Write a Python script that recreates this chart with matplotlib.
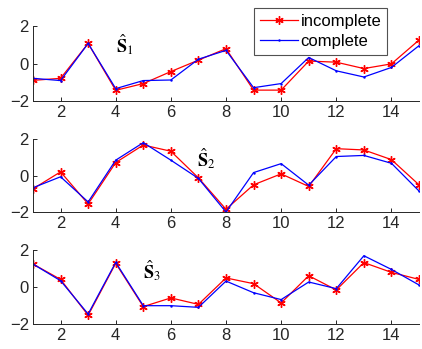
import matplotlib
matplotlib.use("Agg")
import matplotlib.pyplot as plt
import numpy as np

plt.rcParams['font.family'] = ['Liberation Sans', 'DejaVu Sans']
plt.rcParams['mathtext.fontset'] = 'stix'

x = list(range(1, 16))

s1_incomplete = [-0.90, -0.79, 1.07, -1.43, -1.07, -0.43, 0.18, 0.79, -1.42, -1.42, 0.13, 0.07, -0.27, -0.02, 1.25]
s1_complete = [-0.79, -0.91, 1.07, -1.34, -0.91, -0.88, 0.23, 0.70, -1.29, -1.07, 0.32, -0.39, -0.72, -0.21, 0.95]

s2_incomplete = [-0.73, 0.20, -1.56, 0.71, 1.67, 1.33, -0.13, -1.85, -0.51, 0.09, -0.60, 1.47, 1.40, 0.87, -0.51]
s2_complete = [-0.67, -0.07, -1.45, 0.84, 1.80, 0.84, -0.16, -2.00, 0.16, 0.65, -0.53, 1.04, 1.10, 0.67, -0.85]

s3_incomplete = [1.24, 0.41, -1.53, 1.28, -1.06, -0.59, -0.94, 0.49, 0.18, -0.86, 0.61, -0.16, 1.32, 0.79, 0.41]
s3_complete = [1.24, 0.34, -1.46, 1.33, -1.01, -1.01, -1.10, 0.32, -0.31, -0.68, 0.27, -0.09, 1.69, 0.95, 0.11]

labels = [r'$\hat{\mathbf{S}}_1$', r'$\hat{\mathbf{S}}_2$', r'$\hat{\mathbf{S}}_3$']
label_pos = [(4.0, 0.6), (6.95, 0.5), (5.0, 0.45)]
xticks = [2, 4, 6, 8, 10, 12, 14]
yticks = [-2, 0, 2]

fig = plt.figure(figsize=(4.22, 3.49), dpi=100)
W, H = 422, 349
boxes = [(26, 101), (139, 212), (250, 324)]
series = [(s1_incomplete, s1_complete), (s2_incomplete, s2_complete), (s3_incomplete, s3_complete)]
axcol = '#262626'
star = (6, 2, 0)
for i, ((top, bot), (inc, comp)) in enumerate(zip(boxes, series)):
    ax = fig.add_axes([33 / W, 1 - bot / H, (419 - 33) / W, (bot - top) / H])
    l1, = ax.plot(x, inc, color='#ff0000', marker=star, markersize=6, markeredgewidth=1.0,
                  linewidth=0.9, label='incomplete')
    l2, = ax.plot(x, comp, color='#0000ff', marker='.', markersize=1.5, linewidth=0.9, label='complete')
    ax.set_xlim(1, 15)
    ax.set_ylim(-2, 2)
    ax.set_xticks(xticks)
    ax.set_yticks(yticks)
    ax.tick_params(direction='in', length=3, labelsize=12, colors=axcol, width=0.7, pad=3)
    for s in ['top', 'right']:
        ax.spines[s].set_visible(False)
    for s in ['left', 'bottom']:
        ax.spines[s].set_color(axcol)
        ax.spines[s].set_linewidth(0.7)
    ax.text(label_pos[i][0], label_pos[i][1], labels[i], fontsize=13, color='black')
    if i == 0:
        handles = [l1, l2]

leg = fig.legend(handles, ['incomplete', 'complete'], loc='upper left',
                 bbox_to_anchor=(254 / W, 1 - 8 / H), fontsize=12, frameon=True,
                 fancybox=False, borderpad=0.35, labelspacing=0.3, handlelength=2.3,
                 handletextpad=0.15, borderaxespad=0)
leg.get_frame().set_edgecolor(axcol)
leg.get_frame().set_linewidth(0.8)

fig.savefig('out.png', dpi=100)
